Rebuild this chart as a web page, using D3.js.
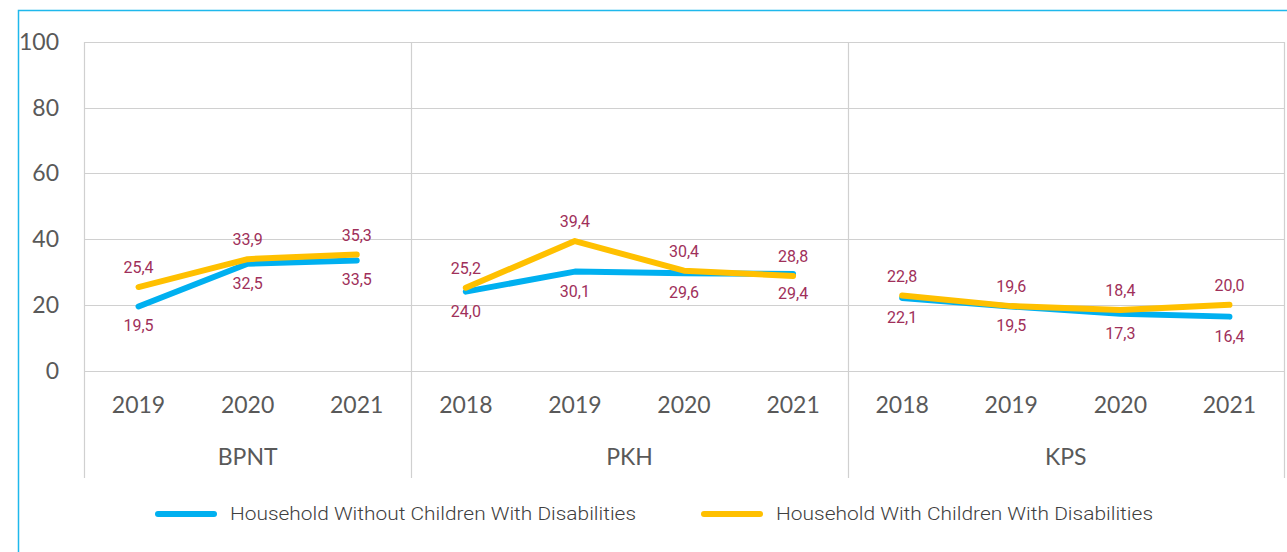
<!DOCTYPE html>
<html>
<head>
<meta charset="utf-8">
<script src="https://cdn.jsdelivr.net/npm/d3@7"></script>
<style>
  body { margin: 0; background: #fff; }
  svg { display: block; }
</style>
</head>
<body>
<svg id="chart" width="1287" height="552"></svg>
<script>
// programmes and their years
var programs = ["BPNT", "PKH", "KPS"];
var years = [
  ["2019", "2020", "2021"],
  ["2018", "2019", "2020", "2021"],
  ["2018", "2019", "2020", "2021"]
];
// values per programme, same order as years
var withoutChildren = [
  [19.5, 32.5, 33.5],
  [24.0, 30.1, 29.6, 29.4],
  [22.1, 19.5, 17.3, 16.4]
];
var withChildren = [
  [25.4, 33.9, 35.3],
  [25.2, 39.4, 30.4, 28.8],
  [22.8, 19.6, 18.4, 20.0]
];
var seriesNames = ["Household Without Children With Disabilities", "Household With Children With Disabilities"];
var yTicks = [0, 20, 40, 60, 80, 100];

var margin = { top: 42, right: 3, left: 84, bottom: 181 };
var svg = d3.select("#chart");
var width = +svg.attr("width");
var height = +svg.attr("height");

// frame
svg.append("path")
  .attr("d", "M18.5,552 L18.5,10.5 L1287,10.5")
  .attr("fill", "none")
  .attr("stroke", "#1fb8ec")
  .attr("stroke-width", 1.5);

var keys = [];
programs.forEach(function (p, i) {
  years[i].forEach(function (yr) { keys.push(p + "|" + yr); });
});

var x = d3.scaleBand()
  .domain(keys)
  .range([margin.left, width - margin.right])
  .padding(0);

var y = d3.scaleLinear()
  .domain([0, 100])
  .range([370.5, margin.top]);

var grid = "#d0d0d0";

// horizontal gridlines
svg.append("g")
  .selectAll("line")
  .data(yTicks)
  .enter().append("line")
  .attr("x1", margin.left)
  .attr("x2", width - margin.right)
  .attr("y1", d => Math.round(y(d)) + 0.5)
  .attr("y2", d => Math.round(y(d)) + 0.5)
  .attr("stroke", grid)
  .attr("stroke-width", 1.2);

// group separators
var bounds = [x(keys[0])];
programs.forEach(function (p, i) {
  var last = p + "|" + years[i][years[i].length - 1];
  bounds.push(x(last) + x.bandwidth());
});
svg.append("g")
  .selectAll("line")
  .data(bounds)
  .enter().append("line")
  .attr("x1", d => Math.round(d) + 0.5)
  .attr("x2", d => Math.round(d) + 0.5)
  .attr("y1", y(100))
  .attr("y2", 478)
  .attr("stroke", grid)
  .attr("stroke-width", 1.2);

// y labels
svg.append("g")
  .selectAll("text")
  .data(yTicks)
  .enter().append("text")
  .attr("x", 59)
  .attr("y", d => y(d) + 8)
  .attr("text-anchor", "end")
  .attr("font-family", "Lato, 'Open Sans', sans-serif")
  .attr("font-size", 23)
  .attr("fill", "#595959")
  .text(d => d);

// year labels
svg.append("g")
  .selectAll("text")
  .data(keys)
  .enter().append("text")
  .attr("x", d => x(d) + x.bandwidth() / 2)
  .attr("y", 413)
  .attr("text-anchor", "middle")
  .attr("font-family", "Lato, 'Open Sans', sans-serif")
  .attr("font-size", 23)
  .attr("fill", "#595959")
  .text(d => d.split("|")[1]);

// programme labels
svg.append("g")
  .selectAll("text")
  .data(programs)
  .enter().append("text")
  .attr("x", (d, i) => (bounds[i] + bounds[i + 1]) / 2)
  .attr("y", 465)
  .attr("text-anchor", "middle")
  .attr("font-family", "Lato, 'Open Sans', sans-serif")
  .attr("font-size", 23)
  .attr("fill", "#595959")
  .text(d => d);

var line = d3.line()
  .x(d => x(d.key) + x.bandwidth() / 2)
  .y(d => y(d.value));

var series = [
  { name: seriesNames[0], values: withoutChildren, color: "#00b0f0", pos: "below" },
  { name: seriesNames[1], values: withChildren, color: "#ffc000", pos: "above" }
];

series.forEach(function (s) {
  programs.forEach(function (p, i) {
    var pts = years[i].map((yr, j) => ({ key: p + "|" + yr, value: s.values[i][j] }));
    svg.append("path")
      .datum(pts)
      .attr("d", line)
      .attr("fill", "none")
      .attr("stroke", s.color)
      .attr("stroke-width", 6)
      .attr("stroke-linecap", "round")
      .attr("stroke-linejoin", "round");
  });
});

// data labels
series.forEach(function (s) {
  programs.forEach(function (p, i) {
    var pts = years[i].map((yr, j) => ({ key: p + "|" + yr, value: s.values[i][j] }));
    svg.append("g")
      .selectAll("text")
      .data(pts)
      .enter().append("text")
      .attr("x", d => x(d.key) + x.bandwidth() / 2)
      .attr("y", d => y(d.value) + (s.pos == "above" ? -14 : 25))
      .attr("text-anchor", "middle")
      .attr("font-family", "Roboto, sans-serif")
      .attr("font-size", 16)
      .attr("fill", "#a0305a")
      .text(d => d3.format(".1f")(d.value).replace(".", ","));
  });
});

// legend
var legendX = [155, 701];
var legend = svg.append("g");
series.forEach(function (s, i) {
  legend.append("line")
    .attr("x1", legendX[i] + 3)
    .attr("x2", legendX[i] + 59)
    .attr("y1", 514)
    .attr("y2", 514)
    .attr("stroke", s.color)
    .attr("stroke-width", 6)
    .attr("stroke-linecap", "round");
  legend.append("text")
    .attr("x", legendX[i] + 75)
    .attr("y", 520)
    .attr("font-family", "Roboto, sans-serif")
    .attr("font-weight", 300)
    .attr("font-size", 18)
    .attr("fill", "#404040")
    .attr("textLength", i == 0 ? 406 : 377)
    .attr("lengthAdjust", "spacingAndGlyphs")
    .text(s.name);
});
</script>
</body>
</html>
